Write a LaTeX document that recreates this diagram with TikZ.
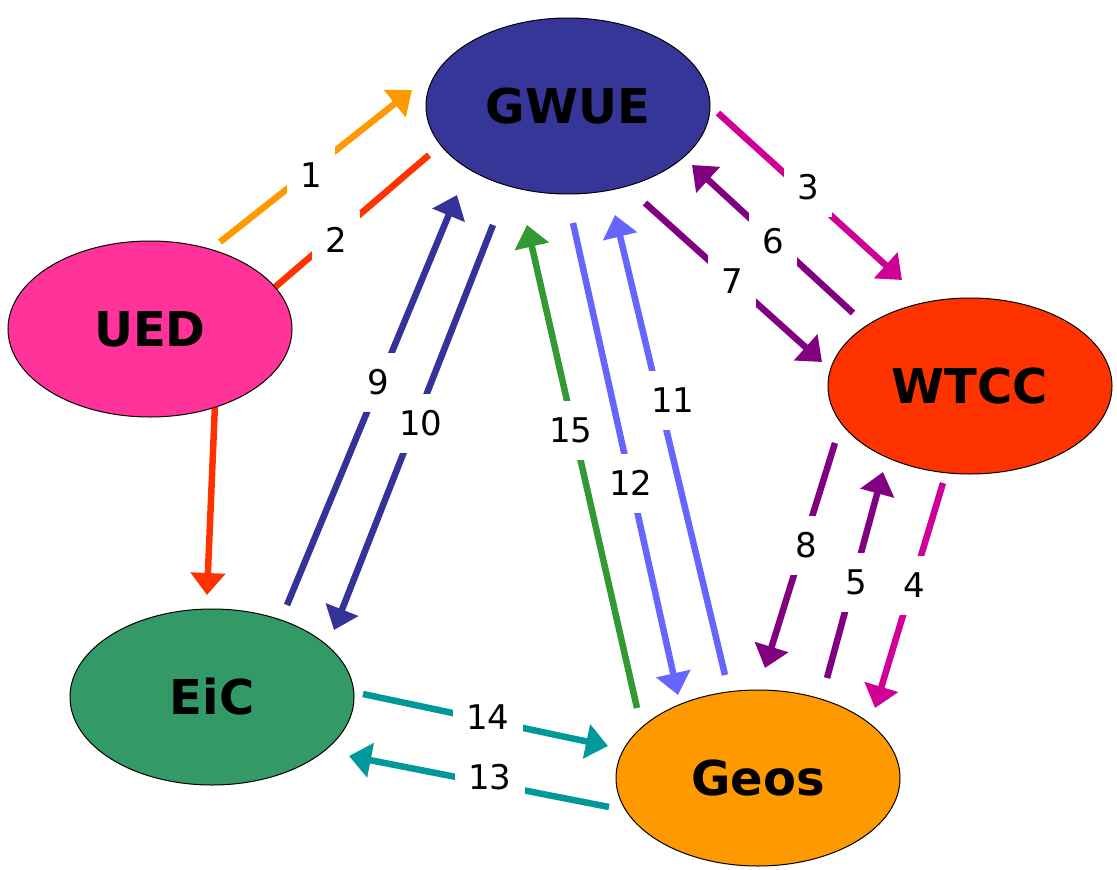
\documentclass[tikz,border=0pt]{standalone}
\usepackage{fontspec}
\setmainfont{DejaVu Sans}
\usetikzlibrary{arrows.meta,shapes.geometric}

\definecolor{cGwue}{RGB}{54,54,153}
\definecolor{cUed}{RGB}{255,51,153}
\definecolor{cWtcc}{RGB}{255,51,0}
\definecolor{cEic}{RGB}{51,153,102}
\definecolor{cGeos}{RGB}{255,153,0}
\definecolor{cOrange}{RGB}{255,153,0}
\definecolor{cRed}{RGB}{255,51,0}
\definecolor{cMagenta}{RGB}{208,0,150}
\definecolor{cPurple}{RGB}{128,0,128}
\definecolor{cNavy}{RGB}{51,51,153}
\definecolor{cLilac}{RGB}{102,102,255}
\definecolor{cGreen}{RGB}{51,153,51}
\definecolor{cTeal}{RGB}{0,153,153}

\tikzset{
  org/.style={ellipse, draw=black, line width=1pt, inner sep=0pt,
    minimum width=284pt, minimum height=176pt,
    font=\fontsize{48}{48}\selectfont\bfseries},
  flow/.style={line width=6.5pt, -{Triangle[width=34pt,length=22pt]}},
  plain/.style={line width=6.5pt},
  lbl/.style={fill=white, inner xsep=13pt, inner ysep=17pt,
    text height=25pt, text depth=0pt,
    font=\fontsize{34}{34}\selectfont}
}

\begin{document}
\begin{tikzpicture}[x=1pt, y=-1pt]
\useasboundingbox (0,0) rectangle (1117,870);

% connectors (ellipses are drawn over their ends afterwards)
\draw[flow, cOrange]  (220,242) -- (412,90);
\draw[plain, cRed]    (429,155) -- (260,300);
\draw[flow, cRed]     (216,380) -- (207,595);
\draw[flow, cMagenta] (718,113) -- (902,280);
\draw[flow, cPurple]  (853,313) -- (692,165);
\draw[flow, cPurple]  (645,203) -- (822,362);
\draw[flow, cPurple]  (835,443) -- (765,668);
\draw[flow, cPurple]  (827,678) -- (883,472);
\draw[flow, cMagenta] (943,483) -- (875,708);
\draw[flow, cNavy]    (287,605) -- (457,195);
\draw[flow, cNavy]    (493,225) -- (334,630);
\draw[flow, cGreen]   (637,708) -- (527,225);
\draw[flow, cLilac]   (573,223) -- (678,695);
\draw[flow, cLilac]   (725,675) -- (615,215);
\draw[flow, cTeal]    (363,694) -- (608,746);
\draw[flow, cTeal]    (609,807) -- (349,756);

% organisations
\node[org, fill=cGwue] (gwue) at (568,106) {GWUE};
\node[org, fill=cUed]  (ued)  at (150,329) {UED};
\node[org, fill=cWtcc] (wtcc) at (970,386) {WTCC};
\node[org, fill=cEic]  (eic)  at (212,697) {EiC};
\node[org, fill=cGeos] (geos) at (758,778) {Geos};

% flow numbers
\node[lbl] (n1)  at (311,175) {1};
\node[lbl] (n2)  at (336,240) {2};
\node[lbl] (n3)  at (808,187) {3};
\node[lbl] (n6)  at (773,241) {6};
\node[lbl] (n7)  at (732,281) {7};
\node[lbl] (n8)  at (806,545) {8};
\node[lbl] (n5)  at (856,582) {5};
\node[lbl] (n4)  at (914,585) {4};
\node[lbl] (n9)  at (378,382) {9};
\node[lbl] (n10) at (421,423) {10};
\node[lbl] (n15) at (571,430) {15};
\node[lbl] (n12) at (631,483) {12};
\node[lbl] (n11) at (673,400) {11};
\node[lbl] (n14) at (488,717) {14};
\node[lbl] (n13) at (490,777) {13};
\end{tikzpicture}
\end{document}
